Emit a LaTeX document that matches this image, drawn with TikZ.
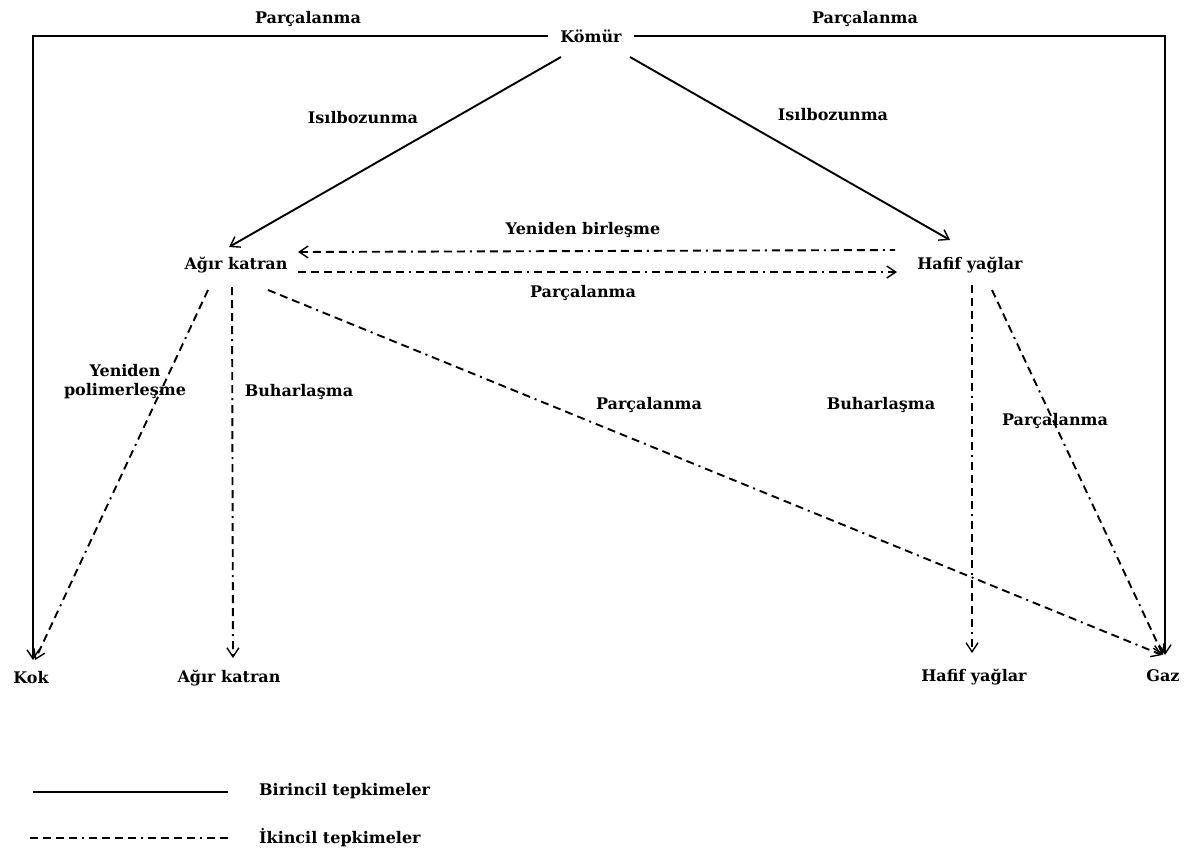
\documentclass[tikz,border=0pt]{standalone}
\usepackage{fontspec}
\setmainfont{DejaVu Serif}
\usetikzlibrary{arrows.meta,calc}
\begin{document}
\begin{tikzpicture}[x=1pt,y=1pt,
  lbl/.style={inner sep=1pt,font=\fontsize{16}{19}\selectfont\bfseries},
  prim/.style={line width=1.9pt},
  sec/.style={line width=1.9pt,dash pattern=on 8pt off 5pt on 8pt off 5pt on 8pt off 5pt on 8pt off 5pt on 2pt off 5pt},
  arr/.style={-{Straight Barb[length=9pt,width=12pt,line width=1.4pt]}},
  rarr/.style={{Straight Barb[length=9pt,width=12pt,line width=1.4pt]}-}]
\useasboundingbox (0,0) rectangle (1189,-855);
% nodes
\node[lbl] (komur) at (591,-36) {Kömür};
\node[lbl] (agr1) at (236,-265) {Ağır katran};
\node[lbl] (haf1) at (970,-265) {Hafif yağlar};
\node[lbl] (kok) at (31,-678) {Kok};
\node[lbl] (agr2) at (229,-678) {Ağır katran};
\node[lbl] (haf2) at (974,-677) {Hafif yağlar};
\node[lbl] (gaz) at (1163,-676) {Gaz};
% labels
\node[lbl] (l1) at (308,-19) {Parçalanma};
\node[lbl] (l2) at (865,-19) {Parçalanma};
\node[lbl] (l3) at (363,-118) {Isılbozunma};
\node[lbl] (l4) at (833,-115) {Isılbozunma};
\node[lbl] (l5) at (583,-230) {Yeniden birleşme};
\node[lbl] (l6) at (583,-293) {Parçalanma};
\node[lbl,align=center] (l7) at (125,-382) {Yeniden\\polimerleşme};
\node[lbl] (l8) at (299,-392) {Buharlaşma};
\node[lbl] (l9) at (649,-405) {Parçalanma};
\node[lbl] (l10) at (881,-405) {Buharlaşma};
\node[lbl] (l11) at (1055,-421) {Parçalanma};
% primary
\draw[prim,arr] ($(komur)+(-43,0)$) -| ($(kok)+(2,18)$);
\draw[prim,arr] ($(komur)+(43,0)$) -| ($(gaz)+(2,21)$);
\draw[prim,arr] ($(komur)+(-30,-21)$) -- ($(agr1)+(-7,18)$);
\draw[prim,arr] ($(komur)+(39,-21)$) -- ($(haf1)+(-20,25)$);
% secondary
\draw[sec,rarr] ($(agr1)+(62,13)$) -- ($(haf1)+(-75,15)$);
\draw[sec,arr] ($(agr1)+(62,-7)$) -- ($(haf1)+(-73,-7)$);
\draw[sec,arr] ($(agr1)+(-28,-25)$) -- ($(kok)+(4,18)$);
\draw[sec,arr] ($(agr1)+(-4,-22)$) -- ($(agr2)+(4,20)$);
\draw[sec,arr] ($(agr1)+(32,-25)$) -- ($(gaz)+(-1,21)$);
\draw[sec,arr] ($(haf1)+(2,-20)$) -- ($(haf2)+(-2,24)$);
\draw[sec,arr] ($(haf1)+(22,-25)$) -- ($(gaz)+(0,21)$);
% legend
\coordinate (a1) at (33,-792);
\coordinate (a2) at (228,-792);
\coordinate (b1) at (30,-838);
\coordinate (b2) at (228,-838);
\draw[prim] (a1) -- (a2);
\draw[sec] (b1) -- (b2);
\node[lbl,anchor=west] (lg1) at (258,-791) {Birincil tepkimeler};
\node[lbl,anchor=west] (lg2) at (258,-838) {İkincil tepkimeler};
\end{tikzpicture}
\end{document}
